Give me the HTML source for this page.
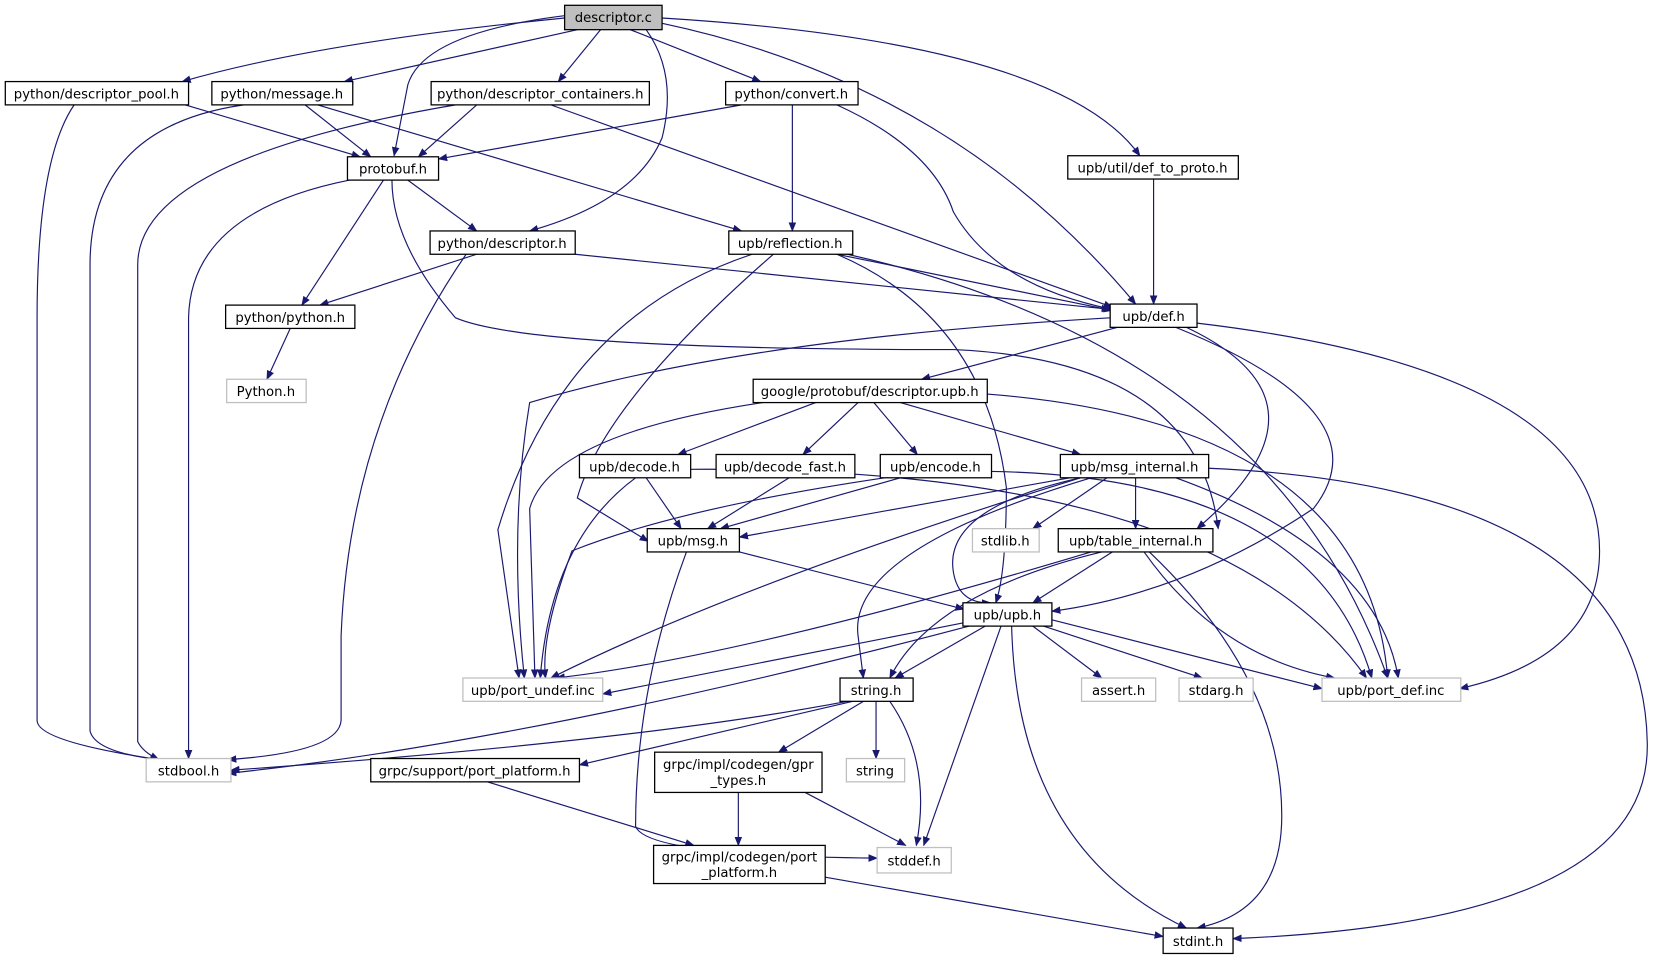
<!DOCTYPE html>
<html><head><meta charset="utf-8"><style>
html,body{margin:0;padding:0;background:#fff;}
svg{display:block}
text{font-family:"DejaVu Sans","Liberation Sans",sans-serif;font-size:12.5px;fill:#000;text-anchor:middle}
.n{fill:#fff;stroke:#000;stroke-width:1.2}
.g{fill:#fff;stroke:#bfbfbf;stroke-width:1.2}
.r{fill:#bfbfbf;stroke:#000;stroke-width:1.2}
.e{fill:none;stroke:#191970;stroke-width:1.1;marker-end:url(#a)}
</style></head><body>
<svg width="1661" height="963" viewBox="0 0 1568 909" preserveAspectRatio="none" xmlns="http://www.w3.org/2000/svg">
<defs><marker id="a" viewBox="0 0 10 10" refX="9" refY="5" markerWidth="9" markerHeight="9" orient="auto" markerUnits="userSpaceOnUse"><path d="M0,1 L10,5 L0,9 z" fill="#191970"/></marker></defs>
<g>
<!-- edges -->
<path class="e" d="M533,17 Q300,40 172,77"/>
<path class="e" d="M545,28 L325,77"/>
<path class="e" d="M567,28 L527,77"/>
<path class="e" d="M595,28 L718,77"/>
<path class="e" d="M540,14 Q400,30 385,80 L372,147"/>
<path class="e" d="M610,28 Q640,70 625,130 Q600,190 500,218"/>
<path class="e" d="M625,22 Q900,80 1072,287"/>
<path class="e" d="M625,17 Q1000,40 1076,147"/>
<path class="e" d="M175,99 L340,148"/>
<path class="e" d="M70,99 Q35,150 35,300 L35,680 Q35,700 150,717"/>
<path class="e" d="M288,99 L350,148"/>
<path class="e" d="M230,99 Q85,120 85,250 L85,690 Q90,710 150,717"/>
<path class="e" d="M300,99 L700,218"/>
<path class="e" d="M450,99 L395,148"/>
<path class="e" d="M430,99 Q130,150 130,250 L130,700 Q135,710 150,717"/>
<path class="e" d="M520,99 L1050,290"/>
<path class="e" d="M700,99 L414,150"/>
<path class="e" d="M748,99 L748,218"/>
<path class="e" d="M790,99 Q880,140 900,200 Q940,270 1050,292"/>
<path class="e" d="M385,170 L450,218"/>
<path class="e" d="M362,170 L285,288"/>
<path class="e" d="M330,170 Q180,200 178,300 L178,716"/>
<path class="e" d="M370,170 Q370,230 430,300 Q500,330 900,330 Q1130,340 1150,499"/>
<path class="e" d="M1089,169 L1089,287"/>
<path class="e" d="M450,240 L302,288"/>
<path class="e" d="M543,240 L1048,292"/>
<path class="e" d="M440,240 Q330,400 322,600 L322,680 Q320,710 215,717"/>
<path class="e" d="M790,240 L1050,293"/>
<path class="e" d="M710,240 Q530,300 470,500 L490,640"/>
<path class="e" d="M730,240 Q570,380 545,470 L612,511"/>
<path class="e" d="M790,240 Q930,300 950,460 Q950,540 940,569"/>
<path class="e" d="M800,240 Q1200,330 1310,640"/>
<path class="e" d="M274,310 L252,358"/>
<path class="e" d="M1055,309 L870,358"/>
<path class="e" d="M1048,300 Q700,320 500,380 Q480,500 495,640"/>
<path class="e" d="M1120,309 Q1270,380 1130,499"/>
<path class="e" d="M1110,309 Q1310,390 1240,480 Q1120,560 993,577"/>
<path class="e" d="M1130,305 Q1510,350 1510,520 Q1510,620 1378,650"/>
<path class="e" d="M770,380 L640,429"/>
<path class="e" d="M810,380 L758,429"/>
<path class="e" d="M825,380 L866,429"/>
<path class="e" d="M850,380 L1020,429"/>
<path class="e" d="M720,380 Q520,410 500,480 L505,640"/>
<path class="e" d="M932,372 Q1290,400 1310,640"/>
<path class="e" d="M610,451 L643,499"/>
<path class="e" d="M600,451 Q520,510 510,640"/>
<path class="e" d="M652,443 Q1150,440 1290,640"/>
<path class="e" d="M745,451 L668,499"/>
<path class="e" d="M850,451 L680,499"/>
<path class="e" d="M835,451 Q640,480 540,520 Q510,600 515,640"/>
<path class="e" d="M936,445 Q1240,450 1295,640"/>
<path class="e" d="M1010,451 L698,507"/>
<path class="e" d="M1045,451 L975,499"/>
<path class="e" d="M1072,451 L1072,499"/>
<path class="e" d="M1020,451 Q890,480 900,540 Q905,570 935,569"/>
<path class="e" d="M1030,451 Q800,520 810,600 L815,640"/>
<path class="e" d="M1020,451 Q700,550 520,640"/>
<path class="e" d="M1110,451 Q1300,520 1320,640"/>
<path class="e" d="M1141,442 Q1550,460 1555,700 Q1560,870 1164,886"/>
<path class="e" d="M698,521 L910,575"/>
<path class="e" d="M648,521 Q600,650 600,780 Q610,808 828,810"/>
<path class="e" d="M1050,521 L975,569"/>
<path class="e" d="M1040,521 Q880,560 840,640"/>
<path class="e" d="M1030,521 Q700,620 525,640"/>
<path class="e" d="M1080,521 Q1150,620 1260,640"/>
<path class="e" d="M1085,521 Q1210,640 1210,770 Q1210,860 1130,876"/>
<path class="e" d="M909,588 L569,655"/>
<path class="e" d="M930,591 L845,640"/>
<path class="e" d="M915,591 Q500,700 215,730"/>
<path class="e" d="M975,591 L1040,640"/>
<path class="e" d="M985,591 L1135,640"/>
<path class="e" d="M993,585 L1248,650"/>
<path class="e" d="M945,591 L872,798"/>
<path class="e" d="M955,591 Q960,800 1120,876"/>
<path class="e" d="M800,662 Q600,700 218,727"/>
<path class="e" d="M805,662 L547,722"/>
<path class="e" d="M815,662 L735,710"/>
<path class="e" d="M827,662 L827,716"/>
<path class="e" d="M840,662 Q880,720 865,798"/>
<path class="e" d="M460,738 L655,798"/>
<path class="e" d="M697,748 L697,798"/>
<path class="e" d="M760,748 L855,798"/>
<path class="e" d="M779,828 L1098,884"/>
</g>
<!-- nodes -->
<rect class="r" x="533" y="5" width="92" height="23"/><text x="579" y="21">descriptor.c</text>
<rect class="n" x="5" y="77" width="173" height="22"/><text x="91" y="93">python/descriptor_pool.h</text>
<rect class="n" x="200" y="77" width="133" height="22"/><text x="266" y="93">python/message.h</text>
<rect class="n" x="407" y="77" width="206" height="22"/><text x="510" y="93">python/descriptor_containers.h</text>
<rect class="n" x="685" y="77" width="125" height="22"/><text x="747" y="93">python/convert.h</text>
<rect class="n" x="328" y="148" width="86" height="22"/><text x="371" y="164">protobuf.h</text>
<rect class="n" x="1008" y="147" width="161" height="22"/><text x="1088" y="163">upb/util/def_to_proto.h</text>
<rect class="n" x="406" y="218" width="137" height="22"/><text x="474" y="234">python/descriptor.h</text>
<rect class="n" x="688" y="218" width="117" height="22"/><text x="746" y="234">upb/reflection.h</text>
<rect class="n" x="1048" y="287" width="82" height="22"/><text x="1089" y="303">upb/def.h</text>
<rect class="n" x="213" y="288" width="122" height="22"/><text x="274" y="304">python/python.h</text>
<rect class="g" x="214" y="358" width="75" height="22"/><text x="251" y="374">Python.h</text>
<rect class="n" x="711" y="358" width="221" height="22"/><text x="821" y="374">google/protobuf/descriptor.upb.h</text>
<rect class="n" x="547" y="429" width="105" height="22"/><text x="599" y="445">upb/decode.h</text>
<rect class="n" x="676" y="429" width="131" height="22"/><text x="741" y="445">upb/decode_fast.h</text>
<rect class="n" x="831" y="429" width="105" height="22"/><text x="883" y="445">upb/encode.h</text>
<rect class="n" x="1001" y="429" width="140" height="22"/><text x="1071" y="445">upb/msg_internal.h</text>
<rect class="n" x="611" y="499" width="87" height="22"/><text x="654" y="515">upb/msg.h</text>
<rect class="g" x="918" y="499" width="63" height="22"/><text x="949" y="515">stdlib.h</text>
<rect class="n" x="999" y="499" width="146" height="22"/><text x="1072" y="515">upb/table_internal.h</text>
<rect class="n" x="909" y="569" width="84" height="22"/><text x="951" y="585">upb/upb.h</text>
<rect class="g" x="437" y="640" width="132" height="22"/><text x="503" y="656">upb/port_undef.inc</text>
<rect class="n" x="793" y="640" width="69" height="22"/><text x="827" y="656">string.h</text>
<rect class="g" x="1021" y="640" width="70" height="22"/><text x="1056" y="656">assert.h</text>
<rect class="g" x="1113" y="640" width="70" height="22"/><text x="1148" y="656">stdarg.h</text>
<rect class="g" x="1248" y="640" width="131" height="22"/><text x="1313" y="656">upb/port_def.inc</text>
<rect class="g" x="138" y="716" width="80" height="22"/><text x="178" y="732">stdbool.h</text>
<rect class="n" x="350" y="716" width="197" height="22"/><text x="448" y="732">grpc/support/port_platform.h</text>
<rect class="g" x="799" y="716" width="55" height="22"/><text x="826" y="732">string</text>
<rect class="n" x="618" y="710" width="158" height="38"/><text x="697" y="726">grpc/impl/codegen/gpr</text><text x="697" y="741">_types.h</text>
<rect class="n" x="617" y="798" width="162" height="36"/><text x="698" y="813">grpc/impl/codegen/port</text><text x="698" y="828">_platform.h</text>
<rect class="g" x="828" y="800" width="70" height="24"/><text x="863" y="817">stddef.h</text>
<rect class="n" x="1098" y="876" width="66" height="24"/><text x="1131" y="893">stdint.h</text>
</svg>
</body></html>
